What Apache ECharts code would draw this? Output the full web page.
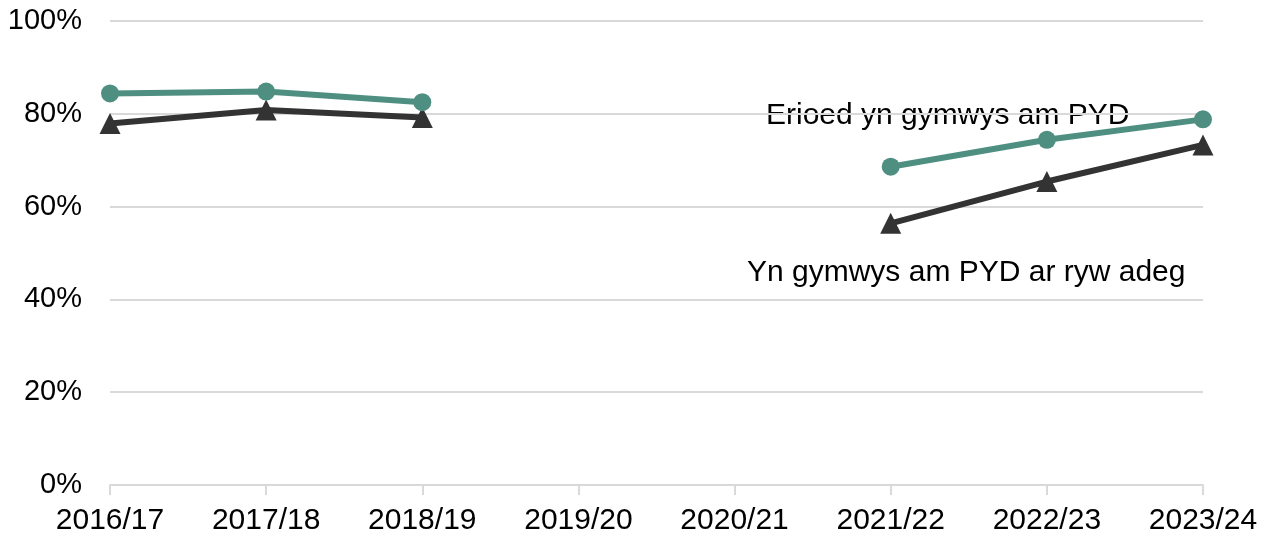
<!DOCTYPE html>
<html><head><meta charset="utf-8">
<script src="https://cdn.jsdelivr.net/npm/echarts@6/dist/echarts.min.js"></script>
<style>html,body{margin:0;padding:0;background:#fff}#c{width:1266px;height:536px}</style>
</head><body><div id="c"></div>
<script>
const categories = ['2016/17','2017/18','2018/19','2019/20','2020/21','2021/22','2022/23','2023/24'];
const neverEligible = [84.4, 84.8, 82.5, null, null, 68.6, 74.4, 78.8];
const everEligible = [77.9, 80.8, 79.2, null, null, 56.4, 65.4, 73.3];
const neverName = 'Erioed yn gymwys am PYD';
const everName = 'Yn gymwys am PYD ar ryw adeg';
const yTicks = [0, 20, 40, 60, 80, 100];

const font = '"Liberation Sans", Arial, sans-serif';
const chart = echarts.init(document.getElementById('c'));
chart.setOption({
  animation: false,
  grid: {left: 110, right: 63, top: 21, bottom: 51, containLabel: false},
  xAxis: {
    type: 'category', data: categories, boundaryGap: false,
    axisLine: {lineStyle: {color: '#d9d9d9', width: 2}},
    axisTick: {show: true, length: 10, alignWithLabel: true, lineStyle: {color: '#d9d9d9', width: 2}},
    axisLabel: {color: '#000', fontSize: 30, fontFamily: font, margin: 21, interval: 0},
    splitLine: {show: false}
  },
  yAxis: {
    type: 'value', min: yTicks[0], max: yTicks[yTicks.length-1], interval: 20,
    axisLine: {show: false}, axisTick: {show: false},
    axisLabel: {color: '#000', fontSize: 29, fontFamily: font, margin: 28, formatter: v => v + '%'},
    splitLine: {lineStyle: {color: '#d9d9d9', width: 2}}
  },
  series: [
    {name: neverName, type: 'line', data: neverEligible, connectNulls: false,
     symbol: 'circle', symbolSize: 18, itemStyle: {color: '#4e8f82'},
     lineStyle: {color: '#4e8f82', width: 6}, z: 3},
    {name: everName, type: 'line', data: everEligible, connectNulls: false,
     symbol: 'triangle', symbolSize: 21, itemStyle: {color: '#333333'},
     lineStyle: {color: '#333333', width: 6}, z: 2}
  ],
  graphic: [
    {type: 'text', x: 766, y: 116, style: {text: neverName, fill: '#000', fontSize: 30, fontFamily: font, verticalAlign: 'middle'}},
    {type: 'text', x: 747, y: 273, style: {text: everName, fill: '#000', fontSize: 30, fontFamily: font, verticalAlign: 'middle'}}
  ]
});
</script></body></html>
